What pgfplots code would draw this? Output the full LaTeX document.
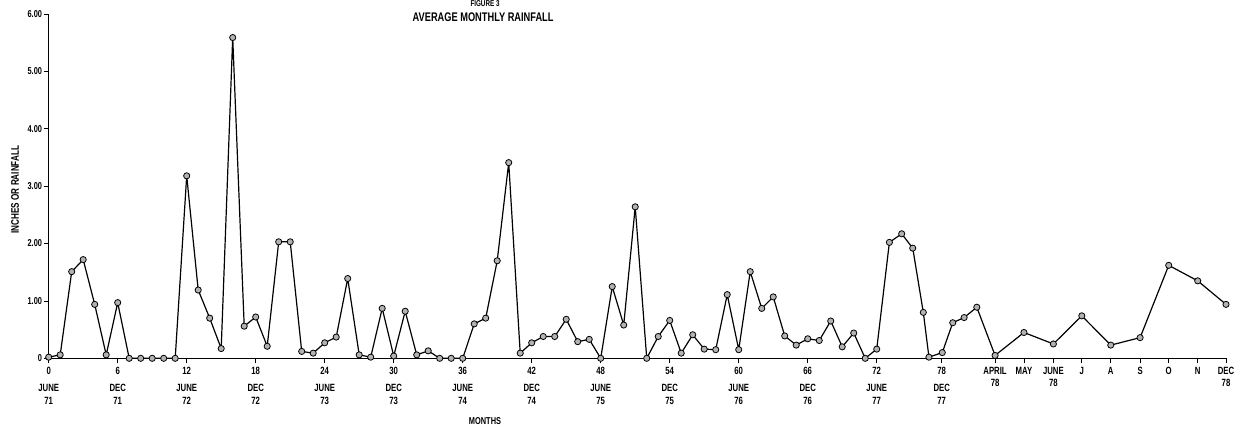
\documentclass[border=0pt]{standalone}
\usepackage{fontspec}
\setmainfont{Liberation Sans}[FakeStretch=0.74]
\usepackage{pgfplots}
\pgfplotsset{compat=1.18}
\pgfplotstableread{
x y
0 0.02
1 0.06
2 1.51
3 1.72
4 0.94
5 0.06
6 0.97
7 0
8 0
9 0
10 0
11 0
12 3.18
13 1.19
14 0.70
15 0.17
16 5.59
17 0.56
18 0.72
19 0.21
20 2.03
21 2.03
22 0.12
23 0.09
24 0.27
25 0.37
26 1.39
27 0.06
28 0.02
29 0.87
30 0.04
31 0.82
32 0.06
33 0.13
34 0
35 0
36 0
37 0.60
38 0.70
39 1.70
40 3.41
41 0.09
42 0.27
43 0.38
44 0.38
45 0.68
46 0.29
47 0.33
48 0
49 1.25
50 0.58
51 2.64
52 0
53 0.38
54 0.66
55 0.09
56 0.41
57 0.16
58 0.15
59 1.11
60 0.15
61 1.51
62 0.87
63 1.07
64 0.39
65 0.23
66 0.34
67 0.31
68 0.65
69 0.20
70 0.44
71 0
72 0.16
73.1 2.02
74.17 2.17
75.13 1.92
76.05 0.80
76.54 0.02
77.7 0.10
78.61 0.62
79.6 0.71
80.7 0.89
82.29 0.05
84.8 0.45
87.36 0.25
89.83 0.74
92.35 0.23
94.9 0.36
97.39 1.62
99.91 1.35
102.37 0.94
}\rain
\begin{document}
\begin{tikzpicture}[x=1pt,y=1pt]
\begin{axis}[
  at={(48.7pt,70.7pt)}, anchor=south west,
  scale only axis, width=1177.3pt, height=344.3pt,
  xmin=0, xmax=102.37, ymin=0, ymax=6,
  axis x line=bottom, axis y line=left,
  axis line style={-, line width=1pt, black},
  tick align=outside, major tick length=5pt,
  tick style={black, line width=0.8pt},
  clip=false,
  ytick={0,1,2,3,4,5,6},
  yticklabels={0,1.00,2.00,3.00,4.00,5.00,6.00},
  yticklabel style={font=\bfseries\fontsize{10}{11}\selectfont, inner sep=1.5pt},
  xtick={0,6,12,18,24,30,36,42,48,54,60,66,72,77.65,82.29,84.8,87.36,89.83,92.35,94.9,97.39,99.91,102.37},
  xticklabels={
    {0\\[5pt]JUNE\\71},{6\\[5pt]DEC\\71},{12\\[5pt]JUNE\\72},{18\\[5pt]DEC\\72},
    {24\\[5pt]JUNE\\73},{30\\[5pt]DEC\\73},{36\\[5pt]JUNE\\74},{42\\[5pt]DEC\\74},
    {48\\[5pt]JUNE\\75},{54\\[5pt]DEC\\75},{60\\[5pt]JUNE\\76},{66\\[5pt]DEC\\76},
    {72\\[5pt]JUNE\\77},{78\\[5pt]DEC\\77},
    {APRIL\\78},{MAY},{JUNE\\78},{J},{A},{S},{O},{N},{DEC\\78}},
  xticklabel style={align=center, anchor=north, inner sep=2pt, yshift=-1.5pt,
    font=\bfseries\fontsize{10.5}{12.5}\selectfont},
  title={AVERAGE MONTHLY RAINFALL},
  title style={at={(axis description cs:0.369,0.974)}, anchor=center,
    font=\bfseries\fontsize{12.5}{14}\selectfont},
  xlabel={MONTHS},
  xlabel style={at={(axis description cs:0.3706,-0.181)}, anchor=center,
    font=\bfseries\fontsize{10}{11}\selectfont},
  ylabel={INCHES OR RAINFALL},
  ylabel style={at={(axis description cs:-0.0286,0.49)}, anchor=center, rotate=0,
    font=\bfseries\fontsize{11}{12}\selectfont},
]
\addplot[black, line width=1.2pt, mark=*, mark size=3.1pt,
  mark options={fill=gray!60, draw=black, line width=0.8pt}] table[x=x,y=y] {\rain};
\node[font=\bfseries\fontsize{8.5}{10}\selectfont, anchor=north, inner sep=0.5pt] at (axis description cs:0.3706,1.0406) {FIGURE 3};
\end{axis}
\pgfresetboundingbox
\path[use as bounding box] (0,0) rectangle (1242,429);
\end{tikzpicture}
\end{document}
